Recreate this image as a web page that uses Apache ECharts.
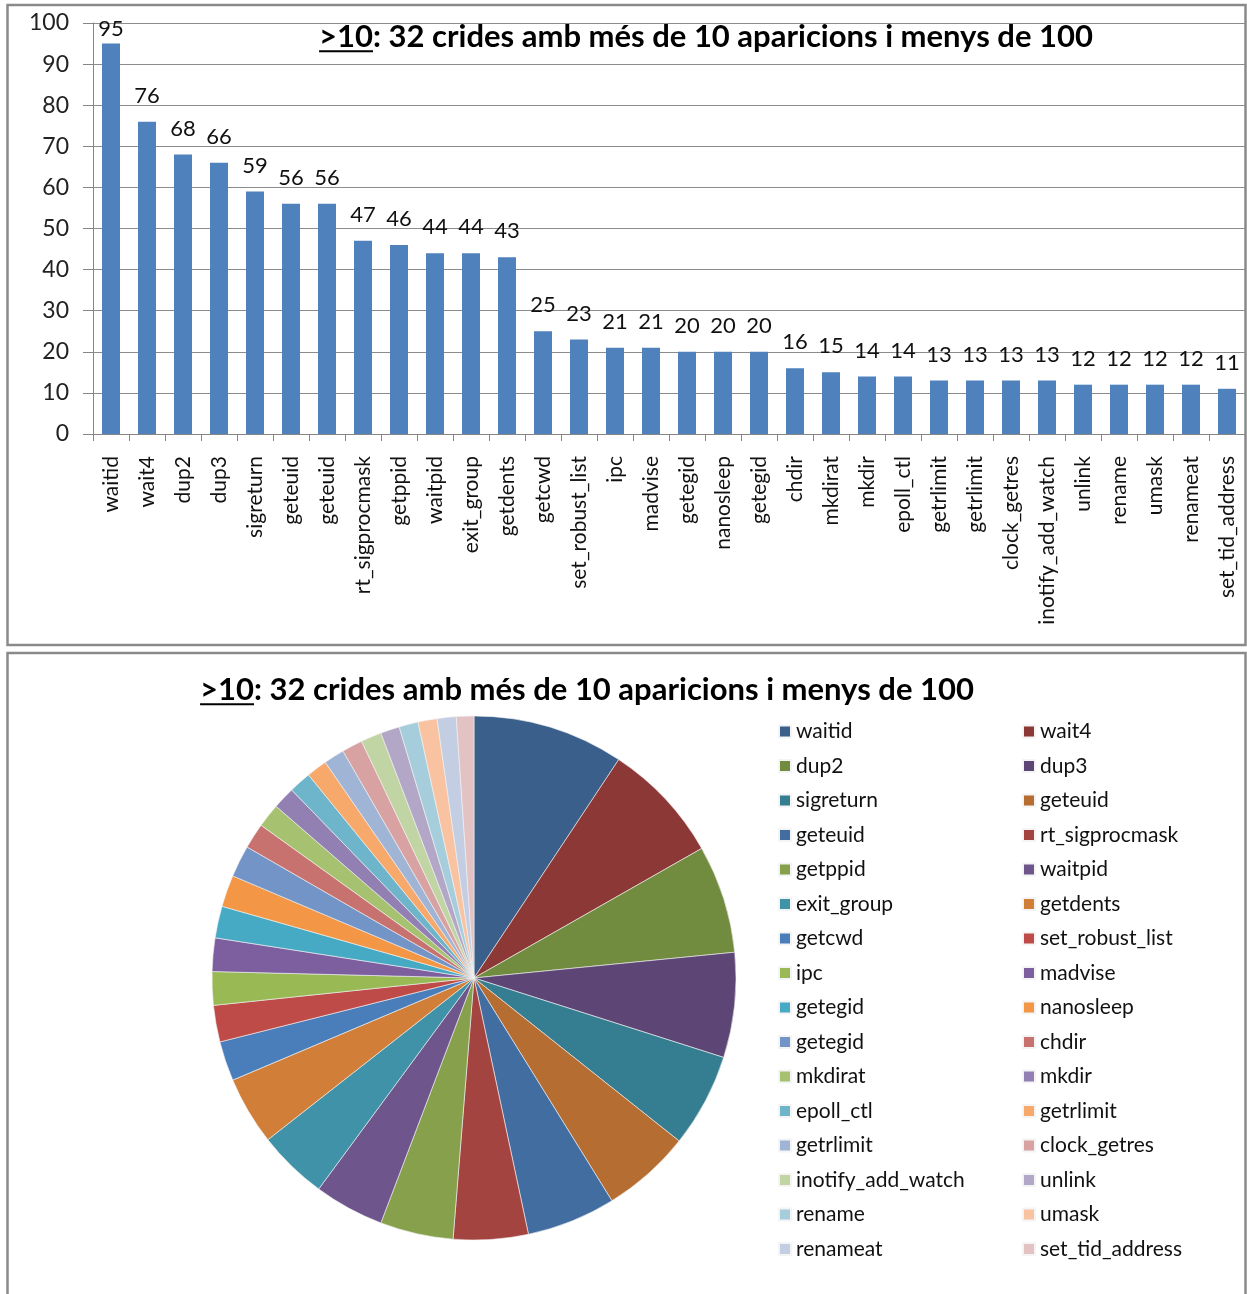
<!DOCTYPE html>
<html><head><meta charset="utf-8">
<script src="https://cdn.jsdelivr.net/npm/echarts@6/dist/echarts.min.js"></script>
<style>html,body{margin:0;padding:0;background:#fff}#c{width:1247px;height:1294px}</style>
</head><body><div id="c"></div>
<script>
const categories = ['waitid','wait4','dup2','dup3','sigreturn','geteuid','geteuid','rt_sigprocmask','getppid','waitpid','exit_group','getdents','getcwd','set_robust_list','ipc','madvise','getegid','nanosleep','getegid','chdir','mkdirat','mkdir','epoll_ctl','getrlimit','getrlimit','clock_getres','inotify_add_watch','unlink','rename','umask','renameat','set_tid_address'];
const counts = [95,76,68,66,59,56,56,47,46,44,44,43,25,23,21,21,20,20,20,16,15,14,14,13,13,13,13,12,12,12,12,11];
const yTickLabels = [0,10,20,30,40,50,60,70,80,90,100];
const pieColors = ['#3A5F8B','#8C3836','#718B3F','#5D4675','#357D91','#B66D31','#426DA0','#A44441','#86A04C','#6E568C','#4092A9','#D17F38','#4A7EBB','#BE4B48','#98B954','#7D5FA0','#46AAC5','#F39645','#7394C6','#C87270','#A6C271','#9380B2','#6EB5CB','#F7A96C','#A0B4D6','#D7A2A1','#C1D4A4','#B3A7C7','#A6CDDC','#F9C2A1','#C3CEE3','#E2C2C2'];
const titleUnderlined = '>10';
const titleRest = ': 32 crides amb més de 10 aparicions i menys de 100';

const FONT = 'Lato';
const seen = {};
const pieNames = categories.map(n => { seen[n] = (seen[n] || 0) + 1; return n + '\u200b'.repeat(seen[n] - 1); });
const pieData = pieNames.map((n, i) => ({ name: n, value: counts[i], itemStyle: { color: pieColors[i] } }));
const leftNames = pieNames.filter((n, i) => i % 2 === 0);
const rightNames = pieNames.filter((n, i) => i % 2 === 1);
const maxVal = yTickLabels[yTickLabels.length - 1];
const barData = counts.map(v => (v > 0.9 * maxVal ? { value: v, label: { distance: 4 } } : v));

function titleGraphic(cx, cy, fs) {
  const font = 'bold ' + fs + 'px ' + FONT;
  const ctx = document.createElement('canvas').getContext('2d');
  ctx.font = font;
  const wU = ctx.measureText(titleUnderlined).width;
  const wAll = ctx.measureText(titleUnderlined + titleRest).width;
  const left = cx - wAll / 2;
  return [
    { type: 'text', x: left, y: cy, style: { text: titleUnderlined + titleRest, font: font, fill: '#000', align: 'left', verticalAlign: 'middle' } },
    { type: 'rect', shape: { x: left, y: cy + fs * 0.43, width: wU, height: 2 }, style: { fill: '#000' } }
  ];
}

const chart = echarts.init(document.getElementById('c'), null, { renderer: 'canvas' });
const legendCommon = {
  orient: 'vertical', icon: 'rect', itemWidth: 12, itemHeight: 12, itemGap: 13.5,
  selectedMode: false,
  textStyle: { fontFamily: FONT, fontSize: 21, color: '#111', lineHeight: 21, padding: [0, 0, 0, 0] },
  formatter: n => n.replace(/\u200b/g, ''),
  top: 721, padding: 0
};
chart.setOption({
  animation: false,
  backgroundColor: '#fff',
  graphic: [
    { type: 'rect', shape: { x: 7.5, y: 5, width: 1238, height: 640 }, style: { fill: 'none', stroke: '#8a8a8a', lineWidth: 2.5 } },
    { type: 'rect', shape: { x: 7.5, y: 653, width: 1238, height: 700 }, style: { fill: 'none', stroke: '#8a8a8a', lineWidth: 2.5 } },
    ...titleGraphic(706, 37, 31),
    ...titleGraphic(587, 690, 31)
  ],
  grid: { left: 93, top: 23, width: 1152, height: 411, containLabel: false },
  xAxis: {
    type: 'category', data: categories,
    axisLine: { lineStyle: { color: '#868686', width: 1 } },
    axisTick: { show: true, interval: 0, length: 7, lineStyle: { color: '#868686' } },
    axisLabel: { interval: 0, rotate: 90, margin: 22, fontFamily: FONT, fontSize: 21, color: '#111' }
  },
  yAxis: {
    type: 'value', min: yTickLabels[0], max: maxVal, interval: yTickLabels[1] - yTickLabels[0],
    axisLine: { show: true, lineStyle: { color: '#868686', width: 1 } },
    axisTick: { show: true, length: 10, lineStyle: { color: '#868686' } },
    splitLine: { lineStyle: { color: '#8c8c8c', width: 1 } },
    axisLabel: { margin: 24, fontFamily: FONT, fontSize: 23, color: '#222' }
  },
  legend: [
    Object.assign({}, legendCommon, { left: 778, data: leftNames }),
    Object.assign({}, legendCommon, { left: 1022, data: rightNames })
  ],
  series: [
    {
      type: 'bar', name: 'crides', data: barData, barWidth: '50%',
      itemStyle: { color: '#4F81BD' },
      label: { show: true, position: 'top', distance: 15, fontFamily: FONT, fontSize: 22, color: '#111' }
    },
    {
      type: 'pie', name: 'pie', center: [474, 978], radius: 262, startAngle: 90, clockwise: true,
      data: pieData, label: { show: false }, labelLine: { show: false },
      itemStyle: { borderColor: '#f4f4f4', borderWidth: 0.6 },
      emphasis: { disabled: true }
    }
  ]
});
</script></body></html>
